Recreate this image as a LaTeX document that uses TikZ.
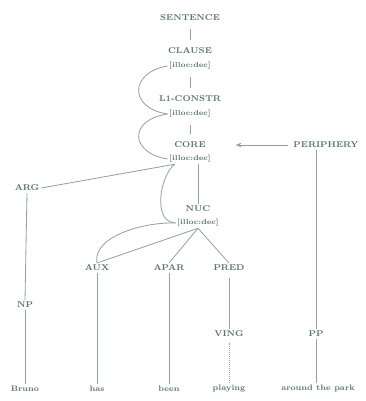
\documentclass[tikz,border=0pt]{standalone}
\usepackage{amsmath,amssymb}
\usepackage{tikz}
\usetikzlibrary{arrows.meta}
\definecolor{ink}{RGB}{88,114,108}
\definecolor{rule}{RGB}{145,162,156}

\begin{document}
\begin{tikzpicture}[x=0.03cm, y=-0.03cm]
  \tikzset{lab/.style={text=ink, font=\fontsize{7.2}{8}\selectfont\bfseries, inner sep=1.5pt},
           feat/.style={text=ink, font=\fontsize{6.2}{7}\selectfont\bfseries, inner sep=1.2pt},
           word/.style={text=ink, font=\fontsize{6.8}{7.5}\selectfont\bfseries, inner sep=1.5pt},
           ln/.style={draw=rule, line width=0.7pt}}
  \useasboundingbox (0,0) rectangle (365,401);
  \node[lab]  (sent) at (190, 18)  {SENTENCE};
  \node[lab]  (cl)   at (190, 51)  {CLAUSE};
  \node[feat] (cf)   at (190, 66)  {[illoc:dec]};
  \node[lab]  (lc)   at (190, 99)  {L1-CONSTR};
  \node[feat] (lf)   at (190, 114) {[illoc:dec]};
  \node[lab]  (core) at (190, 145) {CORE};
  \node[feat] (kf)   at (190, 159) {[illoc:dec]};
  \node[lab]  (per)  at (326, 145) {PERIPHERY};
  \node[lab]  (arg)  at (27, 188)  {ARG};
  \node[lab]  (nuc)  at (198, 209) {NUC};
  \node[feat] (nf)   at (198, 223) {[illoc:dec]};
  \node[lab]  (aux)  at (97, 268)  {AUX};
  \node[lab]  (apar) at (169, 268) {APAR};
  \node[lab]  (pred) at (229, 268) {PRED};
  \node[lab]  (np)   at (25, 305)  {NP};
  \node[lab]  (ving) at (229, 334) {VING};
  \node[lab]  (pp)   at (316, 334) {PP};
  \node[word] (w1)   at (25, 389)  {Bruno};
  \node[word] (w2)   at (97, 389)  {has};
  \node[word] (w3)   at (169, 389) {been};
  \node[word] (w4)   at (229, 389) {playing};
  \node[word] (w5)   at (318, 389) {around the park};
  % spine
  \draw[ln, shorten <=5pt, shorten >=5pt] (sent) -- (cl);
  \draw[ln, shorten <=5pt, shorten >=5pt] (cf) -- (lc);
  \draw[ln, shorten <=5pt, shorten >=5pt] (lf) -- (core);
  \draw[ln] (kf.south -| nuc.north) -- (nuc.north);
  \draw[ln, -{Stealth[length=5pt,width=4pt]}, shorten <=3pt] (per.west) -- ([xshift=24pt]core.east);
  % brackets
  \draw[ln] (cf.west) .. controls (130,72) and (128,108) .. (lf.west);
  \draw[ln] (lf.west) .. controls (128,120) and (130,153) .. (kf.west);
  \draw[ln] ([xshift=6pt]kf.south west) .. controls (160,176) and (152,222) .. (nf.west);
  \draw[ln] (arg.east) -- ([xshift=6pt]kf.south west);
  % nucleus
  \draw[ln] (nf.west) .. controls (140,222) and (92,238) .. (aux.north);
  \draw[ln] (nf.south) -- (aux.north);
  \draw[ln] (nf.south) -- (apar.north);
  \draw[ln] (nf.south) -- (pred.north);
  % down to words
  \draw[ln] (arg.south) -- (np.north);
  \draw[ln] (np.south) -- (w1.north);
  \draw[ln] (aux.south) -- (w2.north);
  \draw[ln] (apar.south) -- (w3.north);
  \draw[ln, shorten <=4pt] (pred.south) -- (ving.north);
  \draw[ln, densely dotted, shorten <=3pt] (ving.south) -- (w4.north);
  \draw[ln] (per.south -| pp.north) -- (pp.north);
  \draw[ln] (pp.south) -- (w5.north -| pp.south);
\end{tikzpicture}
\end{document}
